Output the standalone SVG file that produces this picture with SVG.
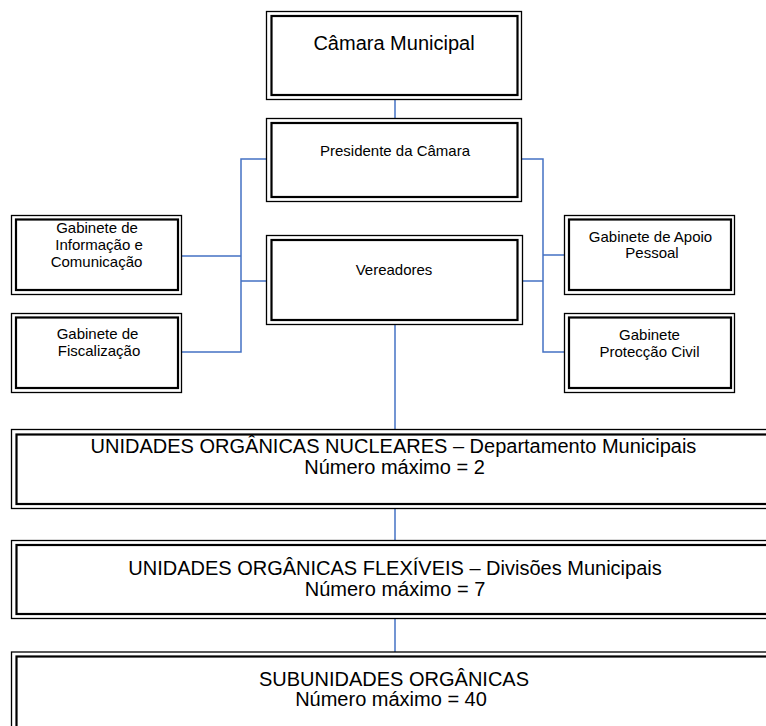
<svg xmlns="http://www.w3.org/2000/svg" width="766" height="726" viewBox="0 0 766 726">
<style>
.o{fill:none;stroke:#000;stroke-width:1.3}
.i{fill:#fff;stroke:#000;stroke-width:2.2}
.t{font-family:"Liberation Sans",Arial,sans-serif;fill:#000;text-anchor:middle}
.s{font-size:15px}
.m{font-size:20px}
.c{fill:none;stroke:#4472C4;stroke-width:1.5}
</style>
<rect width="766" height="726" fill="#fff"/>
<g id="connectors">
<path class="c" d="M395 100V118"/>
<path class="c" d="M266 159H241V352H182M182 256H241M241 281H266"/>
<path class="c" d="M522 159H543V352H564M564 255H543M543 281H522"/>
<path class="c" d="M395 325V430"/>
<path class="c" d="M395 509V541"/>
<path class="c" d="M395 618V652"/>
</g>
<g id="camara">
<rect class="o" x="266.5" y="11.5" width="255" height="88"/>
<rect class="i" x="271.5" y="16" width="246" height="79"/>
<text class="t m" x="394" y="50">Câmara Municipal</text>
</g>
<g id="presidente">
<rect class="o" x="266.5" y="118.5" width="255" height="83"/>
<rect class="i" x="271.5" y="123" width="246" height="74"/>
<text class="t s" x="395" y="156">Presidente da Câmara</text>
</g>
<g id="vereadores">
<rect class="o" x="266.5" y="235.5" width="256" height="89"/>
<rect class="i" x="271.5" y="240" width="246" height="80"/>
<text class="t s" x="394" y="275">Vereadores</text>
</g>
<g id="gab-info">
<rect class="o" x="11.5" y="215.5" width="170" height="79"/>
<rect class="i" x="16" y="219.5" width="162" height="70.5"/>
<text class="t s" x="97" y="233">Gabinete de</text>
<text class="t s" x="99" y="250">Informação e</text>
<text class="t s" x="96.5" y="267">Comunicação</text>
</g>
<g id="gab-fisc">
<rect class="o" x="11.5" y="313.5" width="170" height="79"/>
<rect class="i" x="16" y="317.5" width="162" height="70.5"/>
<text class="t s" x="97.5" y="339">Gabinete de</text>
<text class="t s" x="99" y="356">Fiscalização</text>
</g>
<g id="gab-apoio">
<rect class="o" x="564.5" y="215.5" width="170" height="79"/>
<rect class="i" x="569" y="219.5" width="162" height="70.5"/>
<text class="t s" x="650.5" y="242">Gabinete de Apoio</text>
<text class="t s" x="652" y="258">Pessoal</text>
</g>
<g id="gab-civil">
<rect class="o" x="564.5" y="313.5" width="170" height="79"/>
<rect class="i" x="569" y="317.5" width="162" height="70.5"/>
<text class="t s" x="649.5" y="340">Gabinete</text>
<text class="t s" x="649.5" y="357">Protecção Civil</text>
</g>
<g id="nucleares">
<rect class="o" x="11.5" y="429.5" width="780" height="79"/>
<rect class="i" x="16.5" y="434.5" width="770" height="69.5"/>
<text class="t m" x="393.5" y="453">UNIDADES ORGÂNICAS NUCLEARES – Departamento Municipais</text>
<text class="t m" x="394.5" y="474">Número máximo = 2</text>
</g>
<g id="flexiveis">
<rect class="o" x="11.5" y="540.5" width="780" height="78"/>
<rect class="i" x="16.5" y="545" width="770" height="69"/>
<text class="t m" x="395" y="575">UNIDADES ORGÂNICAS FLEXÍVEIS – Divisões Municipais</text>
<text class="t m" x="395" y="596">Número máximo = 7</text>
</g>
<g id="subunidades">
<rect class="o" x="11.5" y="652" width="780" height="90"/>
<rect class="i" x="16.5" y="656.5" width="770" height="90"/>
<text class="t m" x="394" y="686">SUBUNIDADES ORGÂNICAS</text>
<text class="t m" x="391" y="706">Número máximo = 40</text>
</g>
</svg>
